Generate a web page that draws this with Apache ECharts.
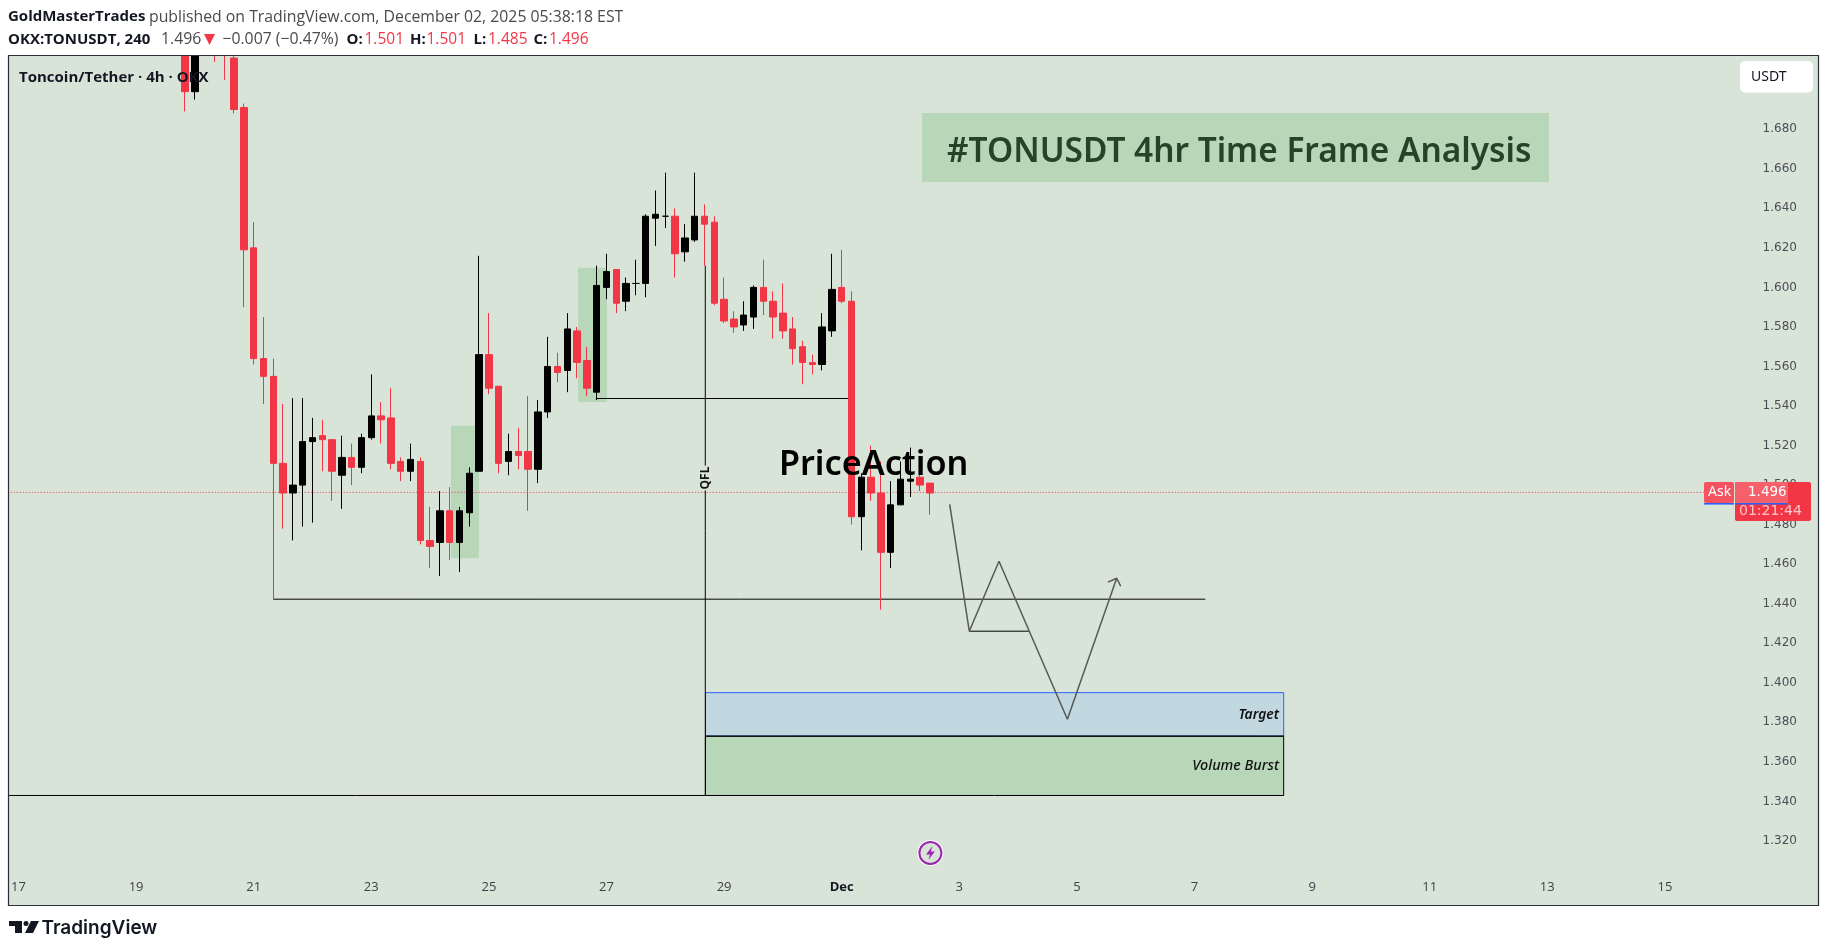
<!DOCTYPE html>
<html><head><meta charset="utf-8">
<style>html,body{margin:0;padding:0;background:#fff}#c{width:1826px;height:952px}</style>
<script src="https://cdn.jsdelivr.net/npm/echarts@6/dist/echarts.min.js"></script>
</head><body><div id="c"></div>
<script>
// ---- data ----
const firstCandle = 18;
const slotCount = 185;
const opens = [1.745,1.699,1.745,1.74,1.74,1.716,1.691,1.620,1.564,1.555,1.511,1.496,1.500,1.522,1.525,1.523,1.505,1.514,1.509,1.524,1.535,1.534,1.512,1.507,1.512,1.472,1.471,1.487,1.471,1.486,1.507,1.566,1.550,1.512,1.517,1.517,1.508,1.537,1.560,1.558,1.578,1.563,1.547,1.600,1.609,1.593,1.602,1.602,1.635,1.636,1.636,1.618,1.624,1.636,1.633,1.594,1.584,1.581,1.585,1.600,1.593,1.587,1.579,1.570,1.562,1.561,1.578,1.600,1.593,1.484,1.504,1.496,1.466,1.490,1.502,1.504,1.501];
const closes = [1.699,1.74,1.73,1.725,1.725,1.690,1.619,1.564,1.555,1.511,1.496,1.500,1.522,1.524,1.523,1.507,1.514,1.509,1.524,1.535,1.533,1.511,1.507,1.513,1.472,1.469,1.487,1.471,1.487,1.506,1.566,1.549,1.511,1.517,1.515,1.508,1.537,1.560,1.557,1.579,1.562,1.549,1.601,1.608,1.592,1.602,1.602,1.636,1.637,1.636,1.617,1.625,1.636,1.632,1.592,1.583,1.580,1.586,1.600,1.593,1.585,1.578,1.569,1.562,1.561,1.580,1.599,1.593,1.484,1.504,1.496,1.466,1.490,1.503,1.503,1.500,1.496];
const lows = [1.689,1.695,1.725,1.714,1.705,1.688,1.590,1.561,1.541,1.442,1.478,1.472,1.479,1.481,1.507,1.492,1.488,1.500,1.506,1.523,1.521,1.508,1.502,1.502,1.470,1.458,1.454,1.462,1.456,1.479,1.507,1.546,1.506,1.505,1.508,1.487,1.501,1.534,1.552,1.547,1.554,1.545,1.543,1.594,1.587,1.588,1.596,1.595,1.621,1.630,1.605,1.613,1.623,1.611,1.591,1.582,1.577,1.578,1.579,1.586,1.574,1.574,1.561,1.551,1.556,1.558,1.575,1.592,1.480,1.467,1.492,1.437,1.458,1.490,1.494,1.497,1.485];
const highs = [1.75,1.75,1.75,1.75,1.745,1.72,1.693,1.633,1.585,1.564,1.541,1.544,1.544,1.534,1.533,1.523,1.525,1.521,1.526,1.556,1.542,1.549,1.514,1.521,1.514,1.489,1.497,1.499,1.489,1.509,1.616,1.587,1.550,1.526,1.529,1.545,1.543,1.575,1.567,1.587,1.580,1.570,1.611,1.617,1.609,1.605,1.614,1.637,1.649,1.658,1.640,1.632,1.658,1.642,1.636,1.605,1.588,1.593,1.601,1.614,1.598,1.602,1.585,1.573,1.566,1.587,1.617,1.619,1.598,1.506,1.520,1.512,1.502,1.512,1.519,1.513,1.501];

const dayLabelSlots = [1,13,25,37,49,61,73,85,97,109,121,133,145,157,169];
const dayLabels = ['17','19','21','23','25','27','29','Dec','3','5','7','9','11','13','15'];
const priceTicks = ['1.320','1.340','1.360','1.380','1.400','1.420','1.440','1.460','1.480','1.500','1.520','1.540','1.560','1.580','1.600','1.620','1.640','1.660','1.680'];
const lastPriceLine = 1.4963;

// zones in chart coordinates [slot start, slot end, price top, price bottom]
const zoneDemandA = [45.13,47.99,1.530,1.463];
const zoneDemandB = [58.09,61.05,1.610,1.542];
const zoneTarget  = [71.1,130.1,1.395,1.373];
const zoneVolume  = [71.1,130.1,1.373,1.343];

// trend lines as [slot, price]
const lineLeftSupport = [[27,1.4423],[122.1,1.4423]];
const lineMidSupport  = [[60,1.5438],[86,1.5438]];
const lineQfl         = [[71.08,1.611],[71.08,1.343]];
const lineBase        = [[-0.1,1.343],[71.08,1.343]];
const lineNeck        = [[98.02,1.4261],[104.1,1.4261]];
const pathProjection  = [[96.02,1.4903],[98.02,1.4261],[101.05,1.4615],[108.03,1.3816],[113.06,1.4529]];
const pathArrowHead   = [[112.17,1.4509],[113.06,1.4529],[113.47,1.4489]];
const linePrice       = [[-0.1,lastPriceLine],[173.8,lastPriceLine]];

// ---- build ----
const BG='#d9e4d9', RED='#f23645', GREEN='#b8d6b8';
const SX=9.8, LEFT=8.7, TOP=55.3, PX=1977;
const YMIN=1.28, YMAX=1.7174;
const candles=[], cats=[];
for(let k=0;k<slotCount;k++){
  cats.push(String(k));
  const i=k-firstCandle;
  candles.push(i>=0&&i<opens.length?[opens[i],closes[i],lows[i],highs[i]]:'-');
}
const zones=[
 {z:zoneDemandA,fill:GREEN,stroke:null},
 {z:zoneDemandB,fill:GREEN,stroke:null},
 {z:zoneTarget,fill:'#c1d8e0',stroke:'#2962ff'},
 {z:zoneVolume,fill:GREEN,stroke:'#000'}
];
function ln(data,color,width,z,dash){
  return {type:'line',xAxisIndex:1,yAxisIndex:0,data:data,symbol:'none',z:z,silent:true,clip:false,
    lineStyle:{color:color,width:width,type:dash||'solid',cap:'butt'},animation:false};
}
const sans='"Open Sans"';
function T(x,y,text,font,fill,extra){
  return Object.assign({type:'text',x:x,y:y,z:20,silent:true,style:{text:text,font:font,fill:fill,textVerticalAlign:'middle',textAlign:'left'}},extra||{});
}
function TA(x,y,text,font,fill,align){const t=T(x,y,text,font,fill);t.style.textAlign=align;return t;}
function R(x,y,w,h,fill,z,r,stroke){
  return {type:'rect',z:z,silent:true,shape:{x:x,y:y,width:w,height:h,r:r||0},style:{fill:fill,stroke:stroke||null,lineWidth:stroke?1:0}};
}
const hdrB='bold 15px '+sans, hdr='15.8px '+sans, hdrR='15.5px '+sans;
const graphics=[
  R(8,55,1810,850,BG,-5),
  R(0,0,1826,55,'#fff',8),
  // frame
  {type:'rect',z:30,silent:true,shape:{x:8.5,y:55.5,width:1810,height:850},style:{fill:null,stroke:'#2a2e39',lineWidth:1.2}},
  // header
  T(8,17,'GoldMasterTrades',hdrB,'#131722'),
  T(149,17,'published on TradingView.com, December 02, 2025 05:38:18 EST',hdr,'#4a4a4a'),
  T(8,39.5,'OKX:TONUSDT, 240',hdrB,'#131722'),
  T(161,39.5,'1.496',hdr,'#4a4a4a'),
  {type:'polygon',z:20,silent:true,shape:{points:[[204,34],[215,34],[209.5,45]]},style:{fill:RED}},
  T(222.4,39.5,'\u22120.007 (\u22120.47%)',hdr,'#4a4a4a'),
  T(346.5,39.5,'O:',hdrB,'#131722'), T(364.5,39.5,'1.501',hdrR,RED),
  T(410,39.5,'H:',hdrB,'#131722'), T(426.5,39.5,'1.501',hdrR,RED),
  T(473.5,39.5,'L:',hdrB,'#131722'), T(488,39.5,'1.485',hdrR,RED),
  T(533.5,39.5,'C:',hdrB,'#131722'), T(549,39.5,'1.496',hdrR,RED),
  // legend
  T(19,77.5,'Toncoin/Tether \u00b7 4h \u00b7 OKX',hdrB,'#131722'),
  // title box
  R(922,113,627,69,GREEN,1),
  T(947,152,'#TONUSDT 4hr Time Frame Analysis','600 33.4px "Noto Sans"','#26432a'),
  // price action
  T(779,465,'PriceAction','600 34.2px "Noto Sans"','#000'),
  // zone labels
  TA(1279,715,'Target','italic 600 13.8px "Noto Sans"','#111','right'),
  TA(1279,766,'Volume Burst','italic 500 14.4px "Noto Sans"','#111','right'),
  // QFL
  {type:'text',x:705.4,y:478,z:20,rotation:Math.PI/2,silent:true,style:{text:'QFL',font:'bold 12px "Noto Sans"',fill:'#111',textAlign:'center',textVerticalAlign:'middle',backgroundColor:BG,padding:[0,1]}},
  // USDT button
  R(1740,61,73,31.5,'#fff',15,5),
  T(1751,77,'USDT','14px "Noto Sans"','#131722'),
  // price tags
  R(1704,482,30,21,'#f4535f',22,2),
  R(1735,482,76,39,RED,22,2),
  R(1735,482,53,21,'#f6606b',23,0),
  R(1704,503,30,1.6,'#2962ff',24),
  R(1735,503,53,1.6,'#2962ff',24),
  Object.assign(T(1708,492.5,'Ask','14px "Noto Sans"','#fff'),{z:25}),
  Object.assign(T(1748,492.5,'1.496','13.5px "DejaVu Sans"','#fff'),{z:25}),
  Object.assign(T(1739,511.5,'01:21:44','14px "DejaVu Sans"','#fbc6cb'),{z:25}),
  // bolt
  {type:'circle',z:15,silent:true,shape:{cx:930.4,cy:853,r:13},style:{fill:'#fff'}},
  {type:'circle',z:16,silent:true,shape:{cx:930.4,cy:853,r:11},style:{fill:BG,stroke:'#9c27b0',lineWidth:2}},
  {type:'polygon',z:17,silent:true,shape:{points:[[932.5,846],[926,854.5],[930,854.5],[928.3,860],[934.8,851.5],[930.8,851.5]]},style:{fill:'#9c27b0'}},
  // footer logo
  {type:'polygon',z:20,silent:true,shape:{points:[[9,921],[22,921],[22,933],[15,933],[15,926],[9,926]]},style:{fill:'#131722'}},
  {type:'circle',z:20,silent:true,shape:{cx:26,cy:923.5,r:2.5},style:{fill:'#131722'}},
  {type:'polygon',z:20,silent:true,shape:{points:[[31,921],[39,921],[33,933],[25,933]]},style:{fill:'#131722'}},
  T(41.5,928.5,'TradingView','600 19px Inter','#131722')
];
const option={
  animation:false,
  backgroundColor:'#fff',
  textStyle:{fontFamily:'"DejaVu Sans"'},
  grid:{left:LEFT,top:TOP,width:SX*(slotCount-1),height:(YMAX-YMIN)*PX,containLabel:false},
  xAxis:[
    {type:'category',data:cats,boundaryGap:false,
     axisLine:{show:false},axisTick:{show:false},splitLine:{show:false},
     axisLabel:{show:true,inside:true,margin:26,color:'#3d4048',fontSize:13,fontFamily:'"Open Sans"',hideOverlap:false,
       interval:(i)=>dayLabelSlots.includes(+i),
       formatter:(v,i)=>{const n=dayLabelSlots.indexOf(+v);if(n<0)return '';return dayLabels[n]==='Dec'?'{b|Dec}':dayLabels[n];},
       rich:{b:{fontWeight:'bold',fontSize:13,color:'#131722',fontFamily:'"Open Sans"'}}}},
    {type:'value',min:0,max:slotCount-1,show:false}
  ],
  yAxis:{type:'value',position:'right',min:YMIN,max:YMAX,interval:0.02,scale:true,
    axisLine:{show:false},axisTick:{show:false},splitLine:{show:false},
    axisLabel:{inside:true,margin:15,color:'#4a4f55',fontSize:12,fontFamily:'"DejaVu Sans"',padding:[4,0,0,0],
      formatter:(v)=>{const s=v.toFixed(3);return priceTicks.includes(s)?s:'';},showMaxLabel:false}},
  series:[
    {type:'custom',xAxisIndex:1,yAxisIndex:0,z:1,silent:true,clip:false,
     data:zones.map((o,i)=>[o.z[0],o.z[2],o.z[1],o.z[3],i]),
     encode:{x:[0,2],y:[1,3]},
     renderItem:(params,api)=>{
       const a=api.coord([api.value(0),api.value(1)]), b=api.coord([api.value(2),api.value(3)]);
       const o=zones[api.value(4)];
       return {type:'rect',shape:{x:a[0],y:a[1],width:b[0]-a[0],height:b[1]-a[1]},
         style:{fill:o.fill,stroke:o.stroke,lineWidth:o.stroke?1:0}};
     }},
    ln(linePrice,RED,1,2,[1,2]),
    ln(lineLeftSupport,'#000',1,2),
    ln(lineMidSupport,'#000',1,2),
    ln(lineQfl,'#000',1,2),
    ln(lineBase,'#000',1,2),
    ln(lineNeck,'#000',1,2),
    {type:'candlestick',xAxisIndex:0,yAxisIndex:0,data:candles,barWidth:7,z:3,silent:true,clip:true,
     itemStyle:{color:'#000',color0:RED,borderColor:'#000',borderColor0:RED,borderColorDoji:'#000',borderWidth:1}},
    ln(pathProjection,'#555a55',1.5,4),
    ln(pathArrowHead,'#555a55',1.5,4),
    ln([[71.08,1.373],[130.1,1.373]],'#000',1,4)
  ],
  graphic:{elements:graphics}
};
const chart=echarts.init(document.getElementById('c'),null,{renderer:'canvas',width:1826,height:952});
chart.setOption(option);
</script></body></html>
